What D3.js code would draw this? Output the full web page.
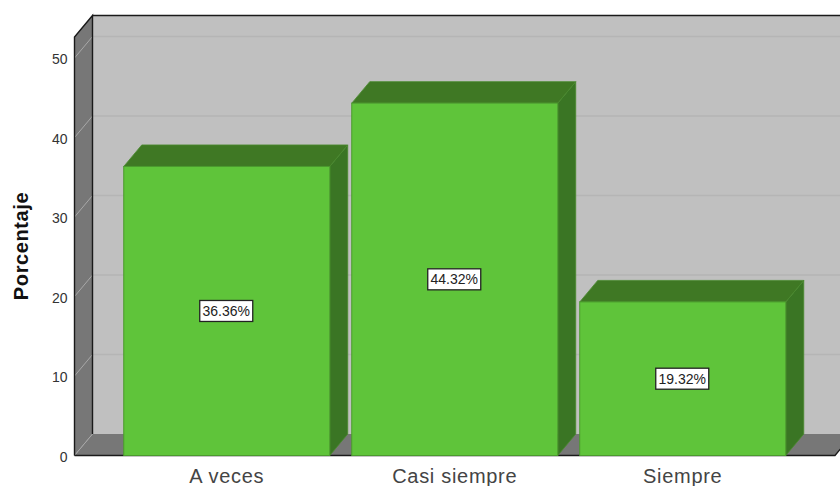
<!DOCTYPE html>
<html><head><meta charset="utf-8">
<script src="https://cdn.jsdelivr.net/npm/d3@7/dist/d3.min.js"></script>
<style>html,body{margin:0;padding:0;background:#fff}svg{display:block}</style>
</head><body><svg id="c" width="840" height="486"></svg>
<script>
const categories=["A veces","Casi siempre","Siempre"];
const values=[36.36,44.32,19.32];
const valueLabels=["36.36%","44.32%","19.32%"];
const yTicks=[0,10,20,30,40,50];
const yTitle="Porcentaje";

const W=840,H=486,dx=18,dy=21.5;
const x0=74.5,x1=835,yBase=455.5,yTop=37;
const svg=d3.select("#c");
const font="'Liberation Sans',Arial,sans-serif";
const y=d3.scaleLinear().domain([0,50]).range([yBase,58]);
const x=d3.scaleBand().domain(categories).range([x0,x1]).paddingInner(0.0965).paddingOuter(0.216);
const poly=(pts,fill,stroke,sw)=>svg.append("polygon").attr("points",pts.map(p=>p.join(",")).join(" ")).attr("fill",fill).attr("stroke",stroke||"none").attr("stroke-width",sw||0).attr("stroke-linejoin","round");

// back wall
poly([[x0+dx,yTop-dy],[W+10,yTop-dy],[W+10,yBase-dy],[x0+dx,yBase-dy]],"#c0c0c0");
// side wall
poly([[x0,yTop],[x0+dx,yTop-dy],[x0+dx,yBase-dy],[x0,yBase]],"#777777");
// floor
poly([[x0,yBase],[x0+dx,yBase-dy],[x1+dx,yBase-dy],[x1,yBase]],"#777777");

// gridlines
const grid=svg.append("g");
yTicks.filter(t=>t>0).forEach(t=>{
  grid.append("line").attr("x1",x0+dx).attr("x2",W).attr("y1",y(t)-dy).attr("y2",y(t)-dy).attr("stroke","#b5b5b5").attr("stroke-width",1.4);
  grid.append("line").attr("x1",x0).attr("x2",x0+dx).attr("y1",y(t)).attr("y2",y(t)-dy).attr("stroke","#a8a8a8").attr("stroke-width",1);
});
grid.append("line").attr("x1",x0).attr("x2",x0+dx).attr("y1",yBase).attr("y2",yBase-dy).attr("stroke","#a8a8a8").attr("stroke-width",1);

// frame
const frame=svg.append("g").attr("fill","none").attr("stroke","#1a1a1a").attr("stroke-width",1.4);
frame.append("path").attr("d",`M${x0},${yBase}V${yTop}L${x0+dx},${yTop-dy}V${yBase-dy}`);
frame.append("path").attr("d",`M${x0+dx},${yTop-dy}H${W}`);
frame.append("path").attr("d",`M${x0},${yBase}H${x1}L${W+10},${yBase-(W+10-x1)*dy/dx}`);

// bars
categories.forEach((c,i)=>{
  const l=x(c),r=l+x.bandwidth(),t=y(values[i]);
  poly([[r,yBase],[r+dx,yBase-dy],[r+dx,t-dy],[r,t]],"#3a7524","#4a8a2e",0.8);
  poly([[l,t],[l+dx,t-dy],[r+dx,t-dy],[r,t]],"#3f7824","#4a8a2e",0.8);
  svg.append("rect").attr("x",l).attr("y",t).attr("width",x.bandwidth()).attr("height",yBase-t).attr("fill","#5fc43a").attr("stroke","#4b9a2e").attr("stroke-width",1);
});

// value labels
categories.forEach((c,i)=>{
  const cx=x(c)+x.bandwidth()/2-0.5,cy=(y(values[i])+yBase)/2;
  svg.append("rect").attr("x",cx-26.5).attr("y",cy-10.5).attr("width",53).attr("height",21).attr("fill","#fff").attr("stroke","#222").attr("stroke-width",1.3);
  svg.append("text").attr("x",cx).attr("y",cy+5).attr("text-anchor","middle").attr("font-family",font).attr("font-size",14).attr("fill","#222").text(valueLabels[i]);
});

// y axis labels
const ax=svg.append("g").attr("transform",`translate(${x0},1.5)`).call(d3.axisLeft(y).tickValues(yTicks).tickSize(0).tickPadding(7));
ax.select(".domain").remove();
ax.selectAll("text").attr("font-family",font).attr("font-size",14).attr("fill","#333");

// x labels
const bx=svg.append("g").attr("transform",`translate(0,${yBase})`).call(d3.axisBottom(x).tickSize(0).tickPadding(13));
bx.select(".domain").remove();
bx.selectAll("text").attr("font-family",font).attr("font-size",20).attr("letter-spacing",0.7).attr("fill","#444");

svg.append("text").attr("transform","translate(27.5,246) rotate(-90)").attr("text-anchor","middle").attr("font-family",font).attr("font-weight","bold").attr("font-size",20).attr("letter-spacing",0.6).attr("fill","#111").text(yTitle);
</script></body></html>
